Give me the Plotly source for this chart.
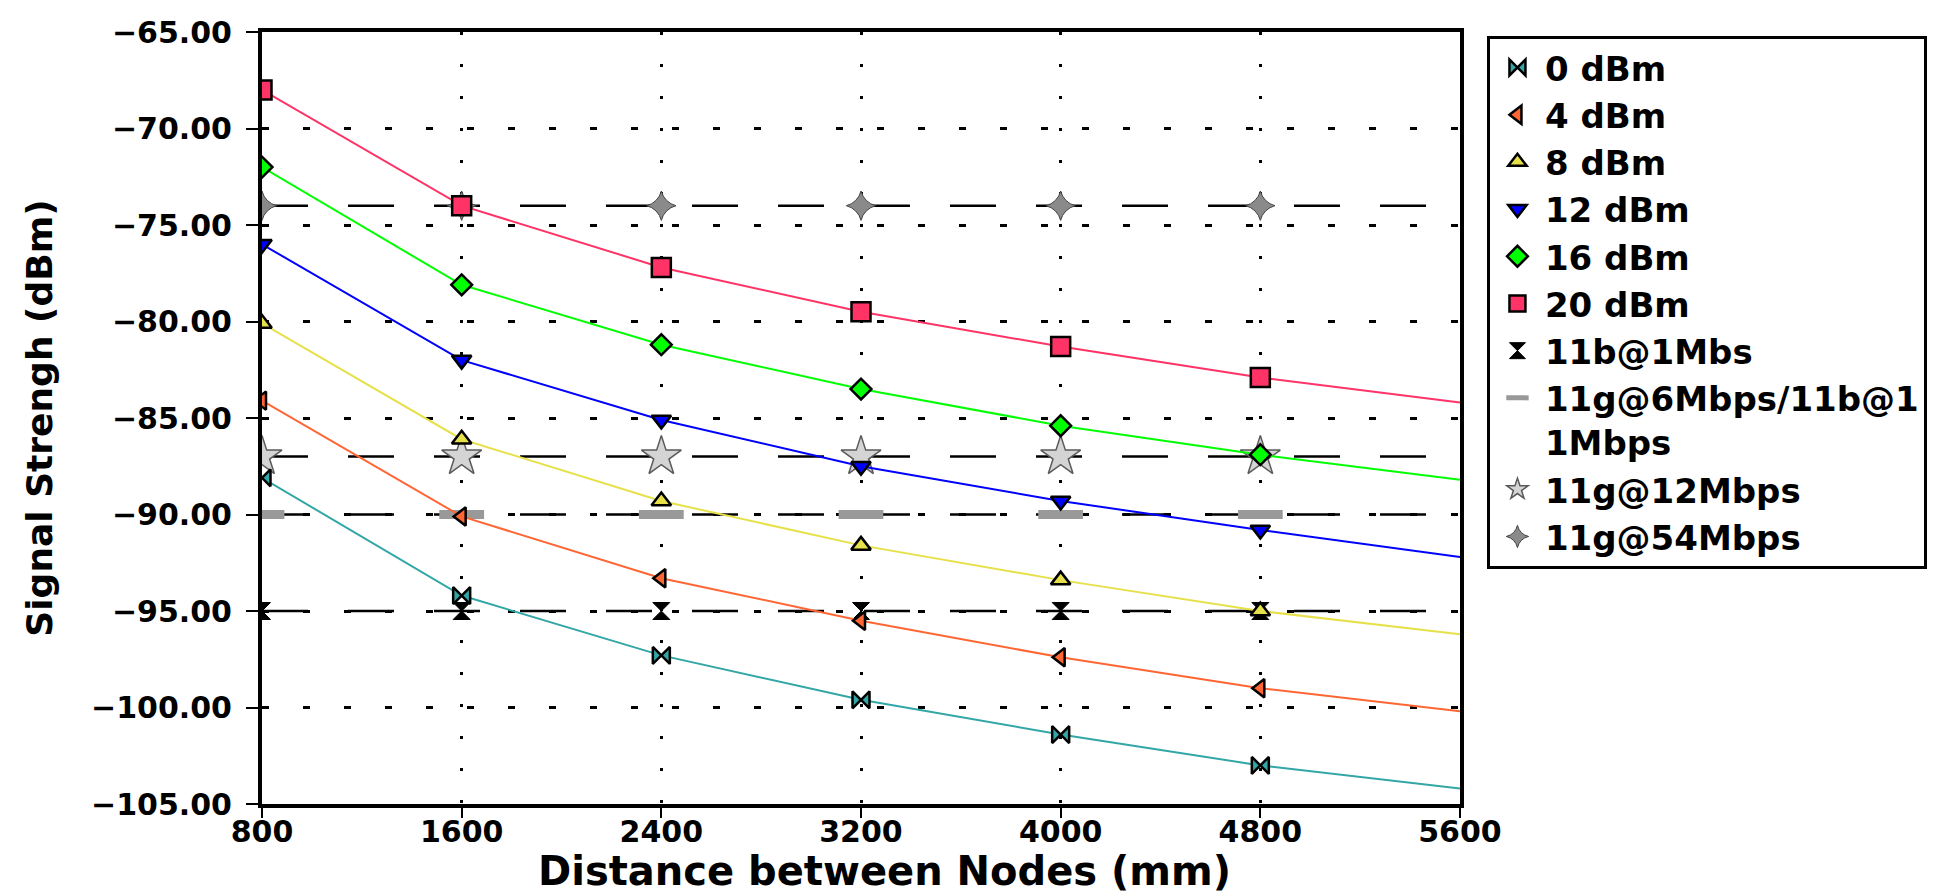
import plotly.graph_objects as go

# ---- data ----
distance_mm = [800, 1600, 2400, 3200, 4000, 4800]
line_end_mm = 5600
x_ticks = [800, 1600, 2400, 3200, 4000, 4800, 5600]
y_ticks = [-105, -100, -95, -90, -85, -80, -75, -70, -65]

dbm_0 = [-88.1, -94.2, -97.3, -99.6, -101.4, -103.0]
dbm_4 = [-84.1, -90.1, -93.3, -95.5, -97.4, -99.0]
dbm_8 = [-80.1, -86.1, -89.3, -91.6, -93.4, -95.0]
dbm_12 = [-76.0, -82.0, -85.1, -87.5, -89.3, -90.8]
dbm_16 = [-72.0, -78.1, -81.2, -83.5, -85.4, -86.9]
dbm_20 = [-68.0, -74.0, -77.2, -79.5, -81.3, -82.9]
# value of each curve where it meets the right edge (5600 mm)
curve_end = [-104.2, -100.2, -96.2, -92.2, -88.2, -84.2]

curve_names = ["0 dBm", "4 dBm", "8 dBm", "12 dBm", "16 dBm", "20 dBm"]
curve_values = [dbm_0, dbm_4, dbm_8, dbm_12, dbm_16, dbm_20]

threshold_names = ["11b@1Mbs", "11g@6Mbps/11b@1<br>1Mbps", "11g@12Mbps", "11g@54Mbps"]
threshold_values = [-95, -90, -87, -74]

x_title = "Distance between Nodes (mm)"
y_title = "Signal Strengh (dBm)"

# ---- styles ----
curve_colors = ["#33a6a6", "#ff6633", "#e6e14a", "#0000ff", "#00ff00", "#ff3366"]
curve_symbols = ["bowtie", "triangle-left", "triangle-up", "triangle-down", "diamond", "square"]
curve_sizes = [17, 16, 17, 17, 16, 19]

thr_markers = [
    dict(symbol="hourglass", size=17, color="black", line=dict(color="black", width=1)),
    dict(symbol="line-ew", size=32, color="#999999", line=dict(color="#999999", width=9)),
    dict(symbol="star", size=30, color="#d4d4d4", line=dict(color="#5a5a5a", width=1.5)),
    dict(symbol="star-diamond", size=21, color="#8a8a8a", line=dict(color="#444444", width=1)),
]

FONT = "DejaVu Sans"

fig = go.Figure()

# threshold (reference) series: dashed line across full width + markers
for i, (name, val) in enumerate(zip(threshold_names, threshold_values)):
    xs_line = distance_mm + [line_end_mm]
    fig.add_trace(go.Scatter(
        x=xs_line, y=[val] * len(xs_line), mode="lines",
        line=dict(color="black", width=2.5, dash="46px,40px"),
        showlegend=False, hoverinfo="skip"))
    fig.add_trace(go.Scatter(
        x=distance_mm, y=[val] * len(distance_mm), mode="markers",
        marker=thr_markers[i], name=name, legendrank=100 + i))

# power curves
for i, (name, vals) in enumerate(zip(curve_names, curve_values)):
    fig.add_trace(go.Scatter(
        x=distance_mm + [line_end_mm], y=vals + [curve_end[i]], mode="lines",
        line=dict(color=curve_colors[i], width=2),
        showlegend=False, hoverinfo="skip"))
    fig.add_trace(go.Scatter(
        x=distance_mm, y=vals, mode="markers", name=name, legendrank=i,
        marker=dict(symbol=curve_symbols[i], size=curve_sizes[i],
                    color=curve_colors[i], line=dict(color="black", width=2.5))))

fig.update_layout(
    width=1944, height=892,
    margin=dict(l=254, r=492, t=24, b=96, autoexpand=False),
    paper_bgcolor="white", plot_bgcolor="white",
    font=dict(family=FONT, color="black", size=30, weight="bold"),
    legend=dict(
        x=1.0225, y=0.995, xanchor="left", yanchor="top",
        bordercolor="black", borderwidth=3, bgcolor="white",
        font=dict(family=FONT, size=34, color="black", weight="bold"),
        valign="top", traceorder="normal", itemwidth=45,
    ),
    showlegend=True,
)

# x-axis title as a text placed below the tick labels
fig.add_annotation(
    text=x_title, xref="paper", yref="paper", x=0.52, y=-0.0865,
    xanchor="center", yanchor="middle", showarrow=False,
    font=dict(family=FONT, size=40, color="black", weight="bold"))

fig.update_xaxes(
    range=[800, 5600], tickvals=x_ticks, ticktext=[str(v) for v in x_ticks],
    showline=True, linecolor="black", linewidth=4, mirror=True,
    ticks="outside", ticklen=10, tickwidth=2, tickcolor="black",
    ticklabelstandoff=-12,
    showgrid=True, gridcolor="black", gridwidth=3, griddash="3px,29px",
    zeroline=False,
    tickfont=dict(family=FONT, size=30, color="black", weight="bold"),
)
fig.update_yaxes(
    range=[-105, -65], tickvals=y_ticks, tickformat=".2f",
    showline=True, linecolor="black", linewidth=4, mirror=True,
    ticks="outside", ticklen=12, tickwidth=2, tickcolor="black",
    ticklabelstandoff=8,
    showgrid=True, gridcolor="black", gridwidth=3, griddash="7px,34px",
    zeroline=False,
    tickfont=dict(family=FONT, size=30, color="black", weight="bold"),
    title=dict(text=y_title, standoff=28,
               font=dict(family=FONT, size=36, color="black", weight="bold")),
)

fig.write_html("out.html")
